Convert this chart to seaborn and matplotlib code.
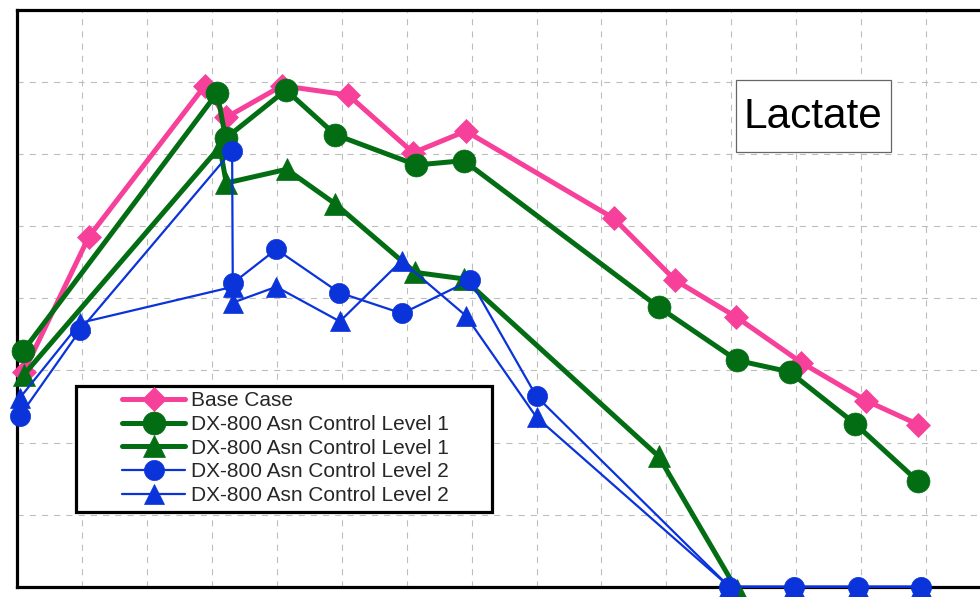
import matplotlib
matplotlib.use("Agg")
import matplotlib.pyplot as plt
from matplotlib.patches import Rectangle
import seaborn as sns

# ---- data ----
base_x = [0.10, 1.10, 2.89, 3.22, 4.08, 5.10, 6.10, 6.91, 9.19, 10.14, 11.08, 12.08, 13.08, 13.88]
base_y = [2.98, 4.85, 6.95, 6.51, 6.95, 6.82, 6.02, 6.32, 5.11, 4.25, 3.74, 3.11, 2.58, 2.25]

l1c_x = [0.09, 3.08, 3.21, 4.14, 4.90, 6.15, 6.88, 9.88, 11.09, 11.90, 12.91, 13.88]
l1c_y = [3.27, 6.85, 6.22, 6.89, 6.27, 5.85, 5.91, 3.88, 3.14, 2.98, 2.26, 1.46]

l1t_x = [0.10, 3.12, 3.22, 4.15, 4.90, 6.13, 6.88, 9.88, 11.09]
l1t_y = [2.94, 6.10, 5.60, 5.79, 5.31, 4.36, 4.27, 1.81, -0.05]

l2c_x = [0.04, 0.97, 3.31, 3.32, 3.99, 4.96, 5.93, 6.98, 8.00, 10.97, 11.97, 12.95, 13.92]
l2c_y = [2.37, 3.56, 6.05, 4.21, 4.68, 4.08, 3.79, 4.25, 2.64, 0.0, 0.0, 0.0, 0.0]

l2t_x = [0.04, 0.97, 3.32, 3.32, 3.99, 4.97, 5.92, 6.91, 8.00, 10.97, 11.97, 12.95, 13.92]
l2t_y = [2.62, 3.66, 4.16, 3.94, 4.16, 3.68, 4.52, 3.76, 2.35, 0.0, 0.0, 0.0, 0.0]

labels = ["Base Case",
          "DX-800 Asn Control Level 1",
          "DX-800 Asn Control Level 1",
          "DX-800 Asn Control Level 2",
          "DX-800 Asn Control Level 2"]
title_text = "Lactate"

PINK = "#F6409A"
GREEN = "#036D14"
BLUE = "#0A33DA"

sns.set_style("white")
plt.rcParams["font.family"] = ["Liberation Sans", "DejaVu Sans"]

fig = plt.figure(figsize=(9.8, 5.97), dpi=100)
ax = fig.add_axes([17.3 / 980, 10.3 / 597, 973.5 / 980, 576.7 / 597])

series = [
    (base_x, base_y, labels[0], PINK, "D", 12.5, 3.6, 3),
    (l1c_x, l1c_y, labels[1], GREEN, "o", 16.5, 3.6, 5),
    (l1t_x, l1t_y, labels[2], GREEN, "^", 16.0, 3.6, 4),
    (l2c_x, l2c_y, labels[3], BLUE, "o", 14.5, 1.6, 7),
    (l2t_x, l2t_y, labels[4], BLUE, "^", 14.5, 1.6, 6),
]
for xs, ys, lab, col, mk, ms, lw, z in series:
    sns.lineplot(x=xs, y=ys, ax=ax, estimator=None, sort=False,
                 color=col, linewidth=lw, marker=mk, markersize=ms,
                 markeredgecolor=col, markeredgewidth=0.5,
                 label=lab, clip_on=False, zorder=z)

ax.set_xlim(0, 15)
ax.set_ylim(0, 8)
ax.set_xticks(range(0, 16))
ax.set_yticks(range(0, 9))
ax.set_xticklabels([])
ax.set_yticklabels([])
ax.tick_params(length=0)
ax.grid(True, color="#bdbdbd", linewidth=0.8, linestyle=(0, (5.5, 5.5)))
for sp in ax.spines.values():
    sp.set_visible(True)
    sp.set_color("black")
    sp.set_linewidth(2.3)

# legend box
ax.add_patch(Rectangle((0.0603, 0.1295), 0.4273, 0.2185, transform=ax.transAxes,
                       facecolor="white", edgecolor="black", linewidth=2.3,
                       zorder=9, clip_on=False))
handles, labs = ax.get_legend_handles_labels()
leg = ax.legend(handles, labs, loc="upper left", bbox_to_anchor=(0.1075, 0.3385),
                borderaxespad=0, borderpad=0, frameon=False, fontsize=15,
                handlelength=3.03, handletextpad=0.29, labelspacing=0.22)
leg.set_zorder(10)

# title box
ax.add_patch(Rectangle((0.738, 0.7532), 0.1595, 0.1249, transform=ax.transAxes,
                       facecolor="white", edgecolor="#666666", linewidth=0.9,
                       zorder=9))
ax.text(0.8172, 0.7949, title_text, transform=ax.transAxes, ha="center",
        va="baseline", fontsize=30.5, color="black", zorder=10)

fig.savefig("out.png", dpi=100)
